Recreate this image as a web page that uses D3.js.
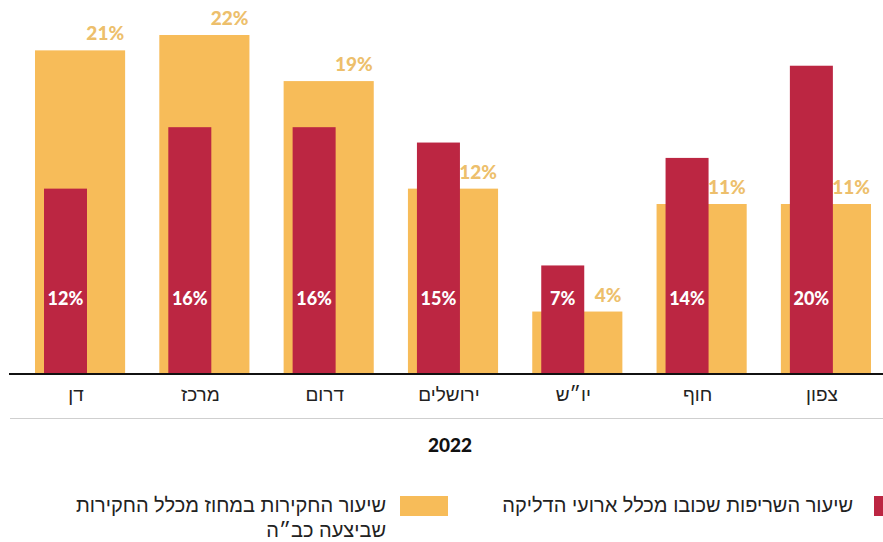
<!DOCTYPE html>
<html>
<head>
<meta charset="utf-8">
<script src="https://cdn.jsdelivr.net/npm/d3@7"></script>
<style>
  body { margin: 0; background: #fff; }
  svg { display: block; }
</style>
</head>
<body>
<div id="container"></div>
<script>
// data
let districts = ["דן", "מרכז", "דרום", "ירושלים", "יו״ש", "חוף", "צפון"];
let investShare = [21, 22, 19, 12, 4, 11, 11];   // orange
let firesPutOut = [12, 16, 16, 15, 7, 14, 20];   // red
let yearLabel = "2022";
let legendRed = "שיעור השריפות שכובו מכלל ארועי הדליקה";
let legendOrange = ["שיעור החקירות במחוז מכלל החקירות", "שביצעה כב״ה"];

let w = 883, h = 542;
let orange = "#F7BC59", red = "#BC2642", orangeText = "#EDBF6C";
let hebFont = "'Liberation Sans', sans-serif";
let numFont = "Lato, 'Noto Sans', sans-serif";
let baseY = 373;

let viz = d3.select("#container").append("svg")
  .attr("width", w).attr("height", h);

let x = d3.scaleBand().domain(districts).range([35, 871]).paddingInner(0.275).paddingOuter(0);
let y = d3.scaleLinear().domain([0, 22]).range([baseY, 35]);
let redW = 43, redOff = 9;

let rows = districts.map((d, i) => ({name: d, inv: investShare[i], fire: firesPutOut[i]}));

let g = viz.selectAll(".grp").data(rows).enter().append("g").attr("class", "grp");

g.append("rect")
  .attr("x", d => x(d.name))
  .attr("y", d => y(d.inv))
  .attr("width", x.bandwidth())
  .attr("height", d => baseY - y(d.inv))
  .attr("fill", orange);

g.append("rect")
  .attr("x", d => x(d.name) + redOff)
  .attr("y", d => y(d.fire))
  .attr("width", redW)
  .attr("height", d => baseY - y(d.fire))
  .attr("fill", red);

g.append("text")
  .text(d => d.inv + "%")
  .attr("x", d => x(d.name) + x.bandwidth() - 1)
  .attr("y", d => y(d.inv) - 10)
  .attr("text-anchor", "end")
  .attr("font-family", numFont)
  .attr("font-weight", 900)
  .attr("font-size", 19)
  .attr("fill", orangeText);

g.append("text")
  .text(d => d.fire + "%")
  .attr("x", d => x(d.name) + redOff + redW / 2)
  .attr("y", 305)
  .attr("text-anchor", "middle")
  .attr("font-family", numFont)
  .attr("font-weight", 900)
  .attr("font-size", 18)
  .attr("fill", "#fff");

// axis
let xAxis = d3.axisBottom(x).tickSize(0).tickPadding(15);
let ax = viz.append("g").attr("transform", "translate(0," + baseY + ")").call(xAxis);
ax.select(".domain").remove();
ax.selectAll("text")
  .attr("font-family", hebFont)
  .attr("font-size", 19)
  .attr("fill", "#222")
  .attr("dx", -4);
viz.append("line")
  .attr("x1", 9).attr("x2", w).attr("y1", baseY + 1).attr("y2", baseY + 1)
  .attr("stroke", "#111").attr("stroke-width", 2);

viz.append("line")
  .attr("x1", 10).attr("x2", w).attr("y1", 418.5).attr("y2", 418.5)
  .attr("stroke", "#cfcfcf").attr("stroke-width", 1);

viz.append("text")
  .text(yearLabel)
  .attr("x", 450).attr("y", 452)
  .attr("text-anchor", "middle")
  .attr("font-family", numFont)
  .attr("font-weight", 900)
  .attr("font-size", 19)
  .attr("fill", "#111");

// legend
viz.append("rect").attr("x", 874).attr("y", 496).attr("width", 12).attr("height", 20).attr("fill", red);
viz.append("text")
  .text(legendRed)
  .attr("x", 853).attr("y", 512)
  .attr("text-anchor", "end")
  .attr("font-family", hebFont)
  .attr("font-size", 20)
  .attr("fill", "#222");

viz.append("rect").attr("x", 400).attr("y", 496).attr("width", 48).attr("height", 20).attr("fill", orange);
viz.selectAll(".legO").data(legendOrange).enter().append("text")
  .attr("class", "legO")
  .text(d => d)
  .attr("x", 386).attr("y", (d, i) => 512 + i * 25)
  .attr("text-anchor", "end")
  .attr("font-family", hebFont)
  .attr("font-size", 20)
  .attr("fill", "#222");
</script>
</body>
</html>
